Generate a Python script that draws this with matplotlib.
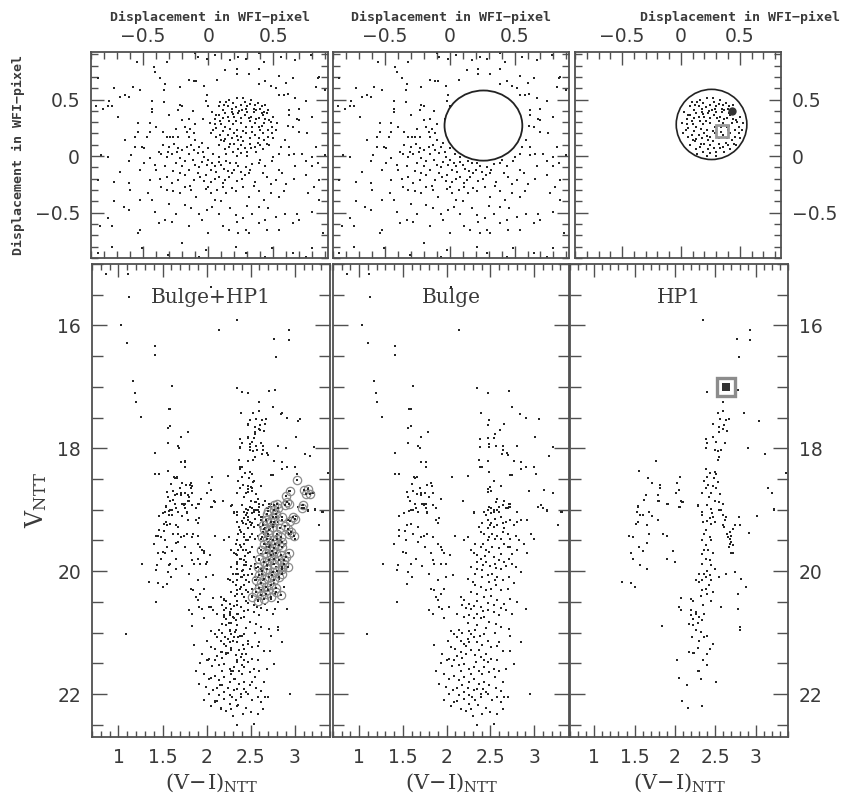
import numpy as np
import matplotlib
matplotlib.use('Agg')
import matplotlib.pyplot as plt
from matplotlib.patches import Ellipse
from matplotlib.ticker import FixedLocator, FixedFormatter, MultipleLocator

# --- data --------------------------------------------------------------------
# positions of bulge field stars (outside the HP1 circle), WFI pixels
bulge_pos = [
    (-0.55, 0.83), (-0.32, 0.83), (-0.10, 0.91), (-0.08, 0.88), (-0.01, 0.86), (0.05, 0.89), (0.17, 0.85),
    (0.23, 0.88), (0.29, 0.86), (0.39, 0.91), (0.43, 0.83), (0.56, 0.88), (0.67, 0.85), (0.79, 0.89),
    (-0.42, 0.79), (-0.41, 0.74), (-0.37, 0.69), (-0.15, 0.67), (-0.11, 0.66), (-0.09, 0.66), (0.07, 0.67),
    (0.13, 0.76), (0.22, 0.77), (0.22, 0.73), (0.31, 0.73), (0.39, 0.77), (0.39, 0.64), (0.44, 0.66),
    (0.54, 0.71), (0.65, 0.69), (0.84, 0.69), (0.85, 0.70), (-0.72, 0.60), (-0.58, 0.61), (-0.52, 0.58),
    (-0.34, 0.58), (-0.33, 0.64), (-0.22, 0.61), (-0.03, 0.62),
    (-0.85, 0.69), (-0.76, 0.49), (-0.74, 0.44), (-0.68, 0.52), (-0.64, 0.54), (-0.61, 0.52), (-0.43, 0.49),
    (-0.43, 0.42), (-0.34, 0.48), (-0.22, 0.45), (-0.02, 0.49), (-0.01, 0.54), (0.00, 0.44), (0.54, 0.54),
    (0.58, 0.54), (0.61, 0.55), (0.67, 0.51), (0.75, 0.49), (0.83, 0.61), (0.90, 0.58),
    (-0.86, 0.44), (-0.81, 0.42), (-0.77, 0.44), (-0.69, 0.35), (-0.43, 0.39), (-0.23, 0.41), (-0.20, 0.44),
    (-0.15, 0.33), (-0.04, 0.33), (0.62, 0.41), (0.68, 0.33), (0.70, 0.32), (0.80, 0.35), (-0.54, 0.29),
    (-0.45, 0.29), (-0.40, 0.26),
    (-0.64, 0.14), (-0.56, 0.17), (-0.54, 0.21), (-0.47, 0.17), (-0.45, 0.21), (-0.32, 0.17), (-0.29, 0.17),
    (-0.27, 0.17), (-0.23, 0.17), (-0.18, 0.26), (-0.16, 0.21), (-0.14, 0.24), (-0.15, 0.17), (-0.11, 0.20),
    (-0.10, 0.14), (0.61, 0.27), (0.65, 0.26), (0.70, 0.21), (0.76, 0.20), (0.59, 0.14), (0.62, 0.08),
    (0.56, 0.08), (0.83, 0.08), (-0.56, 0.08), (-0.51, 0.08),
    (-0.82, 0.01), (-0.77, -0.01), (-0.59, 0.01), (-0.49, 0.07), (-0.38, 0.04), (-0.36, 0.02), (-0.31, 0.04),
    (-0.32, -0.01), (-0.28, 0.02), (-0.24, 0.04), (-0.23, 0.07), (-0.22, -0.02), (-0.16, 0.08), (-0.15, 0.02),
    (-0.11, 0.05), (-0.07, 0.08), (-0.04, 0.04), (-0.03, -0.01), (0.00, 0.07), (0.04, 0.02), (0.08, -0.01),
    (0.14, -0.04), (0.21, -0.06), (0.34, -0.07), (0.40, -0.03), (0.50, -0.01), (0.54, 0.02), (0.62, 0.01),
    (0.66, 0.02), (0.72, 0.02), (0.80, -0.01), (0.90, 0.01),
    (-0.68, -0.14), (-0.61, -0.04), (-0.49, -0.06), (-0.41, -0.08), (-0.33, -0.09), (-0.25, -0.06),
    (-0.20, -0.09), (-0.15, -0.12), (-0.10, -0.08), (-0.05, -0.05), (-0.01, -0.08), (0.02, -0.12),
    (0.05, -0.09), (0.08, -0.05), (0.12, -0.11), (0.17, -0.06), (0.23, -0.09), (0.29, -0.10), (0.32, -0.12),
    (0.39, -0.06), (0.44, -0.09), (0.49, -0.04), (0.54, -0.12), (0.67, -0.09), (0.75, -0.04), (0.80, -0.09),
    (0.84, -0.06),
    (-0.85, -0.21), (-0.72, -0.23), (-0.61, -0.24), (-0.45, -0.21), (-0.37, -0.20), (-0.32, -0.18),
    (-0.23, -0.21), (-0.18, -0.17), (-0.11, -0.21), (-0.06, -0.18), (-0.02, -0.17), (0.02, -0.23),
    (0.08, -0.18), (0.13, -0.21), (0.18, -0.15), (0.26, -0.20), (0.31, -0.15), (0.36, -0.23), (0.45, -0.18),
    (0.52, -0.21), (0.57, -0.15), (0.66, -0.20), (0.75, -0.17), (0.85, -0.21),
    (-0.72, -0.40), (-0.52, -0.39), (-0.46, -0.33), (-0.43, -0.39), (-0.36, -0.27), (-0.32, -0.30),
    (-0.27, -0.31), (-0.22, -0.33), (-0.18, -0.27), (-0.13, -0.30), (-0.09, -0.36), (-0.02, -0.29),
    (0.02, -0.33), (0.05, -0.39), (0.11, -0.27), (0.14, -0.33), (0.21, -0.31), (0.27, -0.27), (0.31, -0.36),
    (0.39, -0.31), (0.43, -0.39), (0.48, -0.33), (0.54, -0.36), (0.58, -0.31), (0.77, -0.33), (0.81, -0.27),
    (0.85, -0.39),
    (-0.77, -0.55), (-0.61, -0.48), (-0.52, -0.65), (-0.41, -0.49), (-0.33, -0.56), (-0.25, -0.51),
    (-0.18, -0.43), (-0.13, -0.46), (-0.07, -0.51), (-0.01, -0.48), (0.03, -0.45), (0.08, -0.51),
    (0.17, -0.46), (0.21, -0.52), (0.27, -0.55), (0.34, -0.51), (0.39, -0.45), (0.44, -0.56), (0.52, -0.54),
    (0.59, -0.51), (0.68, -0.51), (0.80, -0.49),
    (-0.83, -0.62), (-0.74, -0.62), (-0.54, -0.68), (-0.38, -0.59), (-0.28, -0.58), (-0.15, -0.62),
    (-0.05, -0.56), (0.00, -0.68), (0.11, -0.62), (0.16, -0.65), (0.22, -0.58), (0.23, -0.68), (0.29, -0.65),
    (0.31, -0.68), (0.39, -0.59), (0.45, -0.65), (0.54, -0.65), (0.65, -0.59), (0.70, -0.56), (0.88, -0.68),
    (-0.74, -0.80), (-0.51, -0.81), (-0.31, -0.87), (-0.07, -0.89), (-0.20, -0.77), (-0.02, -0.83),
    (0.21, -0.80), (0.29, -0.86), (0.44, -0.89), (0.49, -0.81), (0.65, -0.86), (0.75, -0.89), (0.80, -0.81),
    (-0.85, -0.86),
    (-0.35, 0.10), (-0.30, 0.08), (-0.26, 0.11), (-0.20, 0.05), (-0.13, 0.10), (-0.08, 0.03), (-0.05, 0.12),
    (-0.18, -0.04), (-0.12, -0.03), (-0.07, -0.10), (0.00, -0.03), (0.03, -0.06), (0.06, -0.14), (0.10, -0.08),
    (0.15, -0.13), (0.20, -0.12), (0.25, -0.14), (-0.27, -0.13), (-0.22, -0.15), (-0.08, -0.15), (-0.03, -0.22),
    (0.05, -0.20), (0.11, -0.24), (0.16, -0.18), (0.22, -0.22), (0.28, -0.17), (-0.40, -0.12), (-0.45, -0.02),
    (-0.52, -0.12), (-0.28, -0.24), (-0.14, -0.26), (0.00, -0.27), (0.07, -0.30), (0.18, -0.28), (0.35, -0.26),
    (0.42, -0.15), (0.48, -0.25), (0.60, -0.25), (-0.10, 0.28), (-0.20, 0.32), (-0.30, 0.36), (-0.12, 0.40),
    (-0.25, 0.24), (-0.35, 0.21), (0.62, 0.36), (0.70, 0.42), (0.48, 0.62), (0.52, 0.60), (0.60, 0.65),
    (-0.60, -0.30), (-0.65, -0.45), (0.10, -0.40), (-0.30, -0.42), (0.30, -0.44), (0.46, -0.46),
]

# positions of stars inside the HP1 circle
hp1_pos = [
    (0.09, 0.48), (0.12, 0.45), (0.16, 0.50), (0.19, 0.47), (0.22, 0.51), (0.25, 0.45), (0.28, 0.48),
    (0.30, 0.44), (0.33, 0.50), (0.36, 0.45), (0.37, 0.41), (0.40, 0.42), (0.43, 0.39), (0.45, 0.38),
    (0.46, 0.41), (0.42, 0.36), (0.03, 0.39), (0.06, 0.36), (0.11, 0.41), (0.13, 0.38), (0.18, 0.39),
    (0.20, 0.35), (0.23, 0.38), (0.28, 0.36), (0.30, 0.39), (0.33, 0.35), (0.39, 0.34), (0.47, 0.32),
    (0.50, 0.35), (0.01, 0.29), (0.05, 0.28), (0.09, 0.31), (0.13, 0.26), (0.16, 0.31), (0.19, 0.28),
    (0.22, 0.23), (0.25, 0.29), (0.29, 0.26), (0.32, 0.31), (0.39, 0.26), (0.43, 0.29), (0.49, 0.26),
    (0.52, 0.23), (0.02, 0.20), (0.06, 0.17), (0.11, 0.22), (0.15, 0.19), (0.18, 0.16), (0.20, 0.20),
    (0.25, 0.17), (0.29, 0.20), (0.32, 0.16), (0.36, 0.19), (0.42, 0.20), (0.46, 0.17), (0.50, 0.16),
    (0.08, 0.10), (0.12, 0.13), (0.16, 0.08), (0.20, 0.11), (0.25, 0.10), (0.28, 0.07), (0.32, 0.11),
    (0.36, 0.08), (0.40, 0.10), (0.45, 0.11), (0.19, 0.04), (0.25, 0.03), (0.30, 0.04), (0.37, 0.04),
    (0.13, 0.06), (0.15, 0.44), (0.18, 0.42), (0.26, 0.41), (0.29, 0.42), (0.35, 0.39), (0.11, 0.34),
    (0.15, 0.35), (0.25, 0.34), (0.36, 0.29), (0.40, 0.23), (0.46, 0.23), (0.06, 0.25), (0.23, 0.14),
    (0.39, 0.16), (0.47, 0.10),
    (0.14, 0.48), (0.21, 0.43), (0.27, 0.51), (0.32, 0.46), (0.38, 0.47), (0.24, 0.40), (0.08, 0.44),
    (0.05, 0.33), (0.10, 0.28), (0.17, 0.24), (0.21, 0.31), (0.27, 0.22), (0.34, 0.26), (0.37, 0.33),
    (0.44, 0.33), (0.48, 0.30), (0.53, 0.29), (0.41, 0.27), (0.04, 0.23), (0.09, 0.19), (0.13, 0.15),
    (0.22, 0.18), (0.27, 0.13), (0.34, 0.21), (0.38, 0.12), (0.43, 0.14), (0.49, 0.20), (0.10, 0.14),
    (0.17, 0.11), (0.23, 0.06), (0.33, 0.07), (0.42, 0.06), (0.30, 0.00), (0.22, 0.00), (0.14, 0.02),
    (0.08, 0.36), (0.31, 0.34), (0.19, 0.37), (0.35, 0.42), (0.41, 0.44), (0.44, 0.45), (0.41, 0.38),
]

# colour-magnitude diagram of the bulge field: (V-I, V)
bulge_cmd = [
    (0.86, 15.17), (1.11, 15.16), (1.12, 15.54), (1.03, 16.00), (1.10, 16.28), (1.41, 16.34), (1.41, 16.48),
    (2.14, 16.07), (2.05, 15.38), (1.17, 16.91), (1.19, 17.10), (1.20, 17.24), (1.26, 17.49), (1.61, 16.98),
    (1.57, 17.36), (1.59, 17.36), (1.56, 17.67), (1.59, 17.63), (1.71, 17.81), (1.79, 17.74), (1.56, 17.92),
    (1.67, 17.96), (1.69, 17.99), (1.41, 18.08), (1.41, 18.42), (1.46, 18.42), (1.63, 18.46), (1.66, 18.46),
    (1.64, 18.49), (1.71, 18.22), (1.76, 18.22), (1.76, 18.30), (1.77, 18.59), (1.82, 18.56), (1.83, 18.61),
    (1.55, 18.71), (1.56, 18.79), (1.62, 18.70), (1.66, 18.75), (1.71, 18.72), (1.71, 18.76), (1.75, 18.73),
    (1.84, 18.72), (1.94, 18.82), (1.64, 18.91), (1.74, 18.90), (1.76, 18.91), (1.59, 19.00), (1.67, 19.03),
    (1.78, 19.03), (1.51, 19.06), (2.06, 18.47), (2.24, 18.45), (2.19, 18.85),
    (2.35, 17.02), (2.47, 17.10), (2.71, 17.06), (2.75, 17.32), (2.39, 17.43), (2.49, 17.54), (2.47, 17.62),
    (2.61, 17.70), (2.55, 17.77), (2.66, 17.60), (2.84, 17.44), (2.91, 17.51), (3.06, 17.53), (3.01, 17.82),
    (2.38, 17.85), (2.47, 17.83), (2.54, 17.83), (2.49, 17.93), (2.38, 17.98), (2.49, 17.98), (2.56, 17.96),
    (2.64, 17.97), (2.64, 18.03), (2.69, 18.07), (2.63, 18.09), (2.70, 18.11), (2.81, 17.96), (2.37, 18.19),
    (2.38, 18.30), (2.40, 18.31), (2.47, 18.20), (2.49, 18.39), (2.77, 18.21), (2.85, 18.22), (2.91, 18.30),
    (2.85, 18.33), (3.00, 18.30), (3.02, 18.42), (2.75, 18.44), (2.73, 18.44), (2.54, 18.53), (2.62, 18.61),
    (2.50, 18.63), (2.47, 18.66), (2.51, 18.70), (2.47, 18.71), (2.94, 18.69), (3.11, 18.68), (3.22, 18.73),
    (3.17, 18.12), (3.22, 17.98), (2.58, 18.82), (2.56, 18.87), (2.66, 18.86), (2.71, 18.90), (2.49, 18.95),
    (2.54, 19.00), (2.60, 19.03), (2.70, 18.98), (2.73, 18.95), (2.81, 19.03), (3.08, 18.92), (3.10, 18.98),
    (3.15, 19.02), (3.31, 19.03), (2.31, 19.04), (2.43, 19.03), (2.51, 19.06),
    (1.46, 19.11), (1.51, 19.06), (1.57, 19.02), (1.61, 19.01), (1.65, 18.98), (1.72, 18.90), (1.74, 18.93),
    (1.76, 18.98), (1.78, 19.06), (1.84, 18.93), (1.55, 19.25), (1.59, 19.23), (1.67, 19.28), (1.46, 19.33),
    (1.45, 19.42), (1.40, 19.55), (1.53, 19.50), (1.67, 19.52), (1.71, 19.44), (1.74, 19.42), (1.88, 19.17),
    (1.90, 19.22), (1.91, 19.14), (1.84, 19.44), (1.78, 19.39), (1.90, 19.55), (1.93, 19.61), (1.95, 19.66),
    (1.97, 19.71), (1.84, 19.82), (1.86, 19.88), (1.93, 19.88), (1.99, 19.88), (2.04, 19.74), (1.50, 19.69),
    (1.53, 19.71), (1.59, 19.88), (1.44, 19.90), (1.43, 19.98), (1.56, 20.01), (1.55, 20.21), (1.27, 19.89),
    (1.43, 20.50), (1.82, 20.29), (1.97, 20.29), (1.93, 20.37), (1.90, 20.47), (1.91, 20.58), (1.95, 20.61),
    (2.03, 20.58), (2.07, 20.07), (1.84, 20.69), (1.97, 20.77), (1.80, 20.64), (1.88, 20.42), (1.99, 20.10),
    (1.09, 21.02),
    (2.10, 19.42), (2.20, 19.50), (2.31, 19.06), (2.37, 19.28), (2.41, 19.22), (2.45, 19.09), (2.47, 19.01),
    (2.51, 18.98), (2.54, 19.03), (2.58, 19.01), (2.60, 18.95), (2.64, 18.93), (2.68, 18.98), (2.71, 18.95),
    (2.73, 18.90), (2.47, 19.17), (2.51, 19.22), (2.54, 19.28), (2.58, 19.25), (2.64, 19.22), (2.68, 19.20),
    (2.73, 19.17), (2.77, 19.25), (2.81, 19.20), (2.85, 19.17), (2.92, 19.17), (2.96, 19.39), (3.00, 19.47),
    (3.04, 18.95), (3.15, 19.01), (3.27, 19.25), (3.32, 19.03), (2.39, 19.36), (2.43, 19.39), (2.49, 19.44),
    (2.52, 19.39), (2.58, 19.42), (2.64, 19.36), (2.70, 19.39), (2.73, 19.47), (2.79, 19.42), (2.83, 19.50),
    (2.89, 19.55), (2.33, 19.55), (2.39, 19.61), (2.45, 19.66), (2.49, 19.69), (2.52, 19.61), (2.60, 19.63),
    (2.66, 19.55), (2.73, 19.61), (2.81, 19.66), (2.92, 19.71), (2.31, 19.71), (2.35, 19.74), (2.39, 19.80),
    (2.45, 19.85), (2.54, 19.77), (2.60, 19.82), (2.66, 19.85), (2.71, 19.80), (2.75, 19.88), (2.79, 19.93),
    (2.85, 20.01), (2.28, 19.93), (2.35, 19.96), (2.41, 19.98), (2.47, 20.07), (2.52, 20.04), (2.58, 20.10),
    (2.64, 20.15), (2.71, 20.10), (2.24, 20.12), (2.30, 20.18), (2.33, 20.23), (2.39, 20.26), (2.45, 20.31),
    (2.51, 20.29), (2.56, 20.23), (2.62, 20.31), (2.70, 20.29), (2.77, 20.20), (2.28, 20.34), (2.35, 20.37),
    (2.43, 20.42), (2.51, 20.40), (2.58, 20.47), (2.66, 20.53), (2.73, 20.45), (2.81, 20.50), (2.91, 20.61),
    (2.16, 20.42), (2.20, 20.47), (2.26, 20.53), (2.31, 20.56), (2.39, 20.58), (2.47, 20.64), (2.54, 20.67),
    (2.60, 20.72), (2.68, 20.64), (2.75, 20.69), (2.12, 20.69), (2.20, 20.75), (2.26, 20.72), (2.31, 20.77),
    (2.39, 20.77), (2.43, 20.75), (2.49, 20.83), (2.56, 20.86), (2.62, 20.91), (2.71, 20.94), (2.73, 21.05),
    (2.85, 21.16),
    (2.05, 20.97), (2.09, 21.02), (2.12, 21.07), (2.16, 21.13), (2.20, 21.18), (2.24, 21.10), (2.28, 21.02),
    (2.31, 21.07), (2.35, 21.16), (2.41, 21.21), (2.47, 21.13), (2.51, 21.24), (2.01, 21.13), (2.05, 21.24),
    (2.10, 21.26), (2.16, 21.32), (2.22, 21.35), (2.28, 21.29), (2.33, 21.37), (2.39, 21.40), (2.45, 21.35),
    (2.51, 21.43), (2.58, 21.45), (1.95, 21.35), (2.03, 21.43), (2.09, 21.45), (2.14, 21.53), (2.20, 21.51),
    (2.26, 21.59), (2.31, 21.56), (2.37, 21.62), (2.43, 21.56), (2.49, 21.64), (2.54, 21.59), (2.60, 21.62),
    (2.77, 21.51), (1.88, 21.62), (1.97, 21.67), (2.03, 21.75), (2.09, 21.70), (2.14, 21.78), (2.20, 21.73),
    (2.26, 21.80), (2.31, 21.75), (2.37, 21.83), (2.43, 21.80), (2.49, 21.86), (1.91, 21.83), (1.99, 21.89),
    (2.07, 21.94), (2.12, 21.91), (2.20, 21.97), (2.26, 22.02), (2.31, 21.94), (2.39, 22.00), (2.45, 21.97),
    (1.97, 22.10), (2.09, 22.13), (2.12, 22.12), (2.20, 22.08), (2.26, 22.16), (2.33, 22.10), (2.39, 22.05),
    (2.47, 22.00), (2.52, 22.10), (2.58, 22.05), (2.62, 22.13), (2.66, 22.05), (2.70, 22.05), (2.16, 22.24),
    (2.28, 22.24), (2.41, 22.32), (2.58, 22.32), (2.64, 22.24), (2.95, 22.00), (2.35, 22.51), (2.54, 22.49),
    (2.14, 20.95), (2.18, 21.00), (2.26, 20.98), (2.33, 20.95), (2.38, 21.05), (2.43, 21.02), (2.55, 21.00),
    (2.60, 21.15), (2.22, 21.22), (2.26, 21.16), (2.37, 21.28), (2.43, 21.45), (2.47, 21.48), (2.18, 21.42),
    (2.12, 21.38), (2.06, 21.55), (2.17, 21.62), (2.28, 21.68), (2.34, 21.48), (2.40, 21.68), (2.55, 21.72),
    (2.65, 21.80), (2.18, 21.86), (2.24, 21.90), (2.35, 21.92), (2.42, 21.92), (2.03, 22.00), (2.14, 22.02),
    (2.29, 22.05), (2.36, 22.18), (2.45, 22.22), (2.05, 22.20), (2.22, 22.28), (2.30, 22.35), (2.50, 22.30),
    (2.62, 21.95), (2.68, 21.60), (2.72, 21.30), (2.65, 21.30), (2.58, 21.22), (2.00, 21.45), (1.93, 21.50),
    (1.86, 21.20), (2.56, 21.90),
    (2.42, 19.55), (2.47, 19.50), (2.55, 19.48), (2.62, 19.48), (2.35, 19.85), (2.42, 19.90), (2.50, 19.92),
    (2.56, 19.95), (2.62, 19.96), (2.68, 19.92), (2.33, 20.05), (2.40, 20.10), (2.48, 20.18), (2.55, 20.15),
    (2.35, 20.48), (2.47, 20.52), (2.54, 20.55), (2.62, 20.60), (2.42, 20.65), (2.35, 20.70), (2.28, 20.62),
    (2.22, 20.60), (2.18, 20.55), (2.25, 20.85), (2.35, 20.88), (2.45, 20.92), (2.50, 19.25), (2.62, 19.12),
    (2.55, 19.15), (2.47, 19.30), (2.66, 19.30), (2.70, 19.60), (2.75, 19.72), (2.62, 19.72), (2.55, 19.88),
    (2.44, 19.75), (2.28, 19.65), (2.25, 19.45),
    (1.60, 18.58), (1.70, 18.65), (1.58, 18.85), (1.80, 18.80), (1.88, 18.98), (1.52, 19.35), (1.62, 19.40),
    (1.75, 19.60), (1.82, 19.70), (1.65, 19.80), (1.72, 19.92), (1.80, 20.05), (1.90, 20.15), (1.85, 20.30),
    (1.60, 20.10),
]

# colour-magnitude diagram of the HP1 field
hp1_cmd = [
    (2.35, 15.91), (2.93, 16.07), (2.77, 16.22), (2.93, 16.24), (2.79, 16.52), (2.40, 17.09), (2.78, 17.05),
    (2.60, 17.24), (2.86, 17.43), (3.04, 17.55), (2.53, 17.43), (2.59, 17.40), (2.56, 17.52), (2.63, 17.54),
    (2.67, 17.53), (2.47, 17.60), (2.55, 17.66), (2.59, 17.68), (2.61, 17.62), (2.65, 17.72), (2.55, 17.73),
    (2.38, 17.85), (2.47, 17.82), (2.40, 17.92), (2.51, 17.89), (2.62, 17.92), (2.38, 17.99), (2.49, 18.02),
    (2.53, 18.05), (2.57, 18.03), (2.55, 18.14), (2.53, 18.19), (2.90, 18.00), (3.12, 18.09), (1.76, 18.21),
    (1.56, 18.37), (1.66, 18.49), (1.72, 18.56), (1.81, 18.59), (1.82, 18.65), (1.79, 18.76), (1.80, 18.86),
    (1.64, 18.76), (1.62, 18.84), (1.91, 18.90), (1.54, 18.95), (1.53, 19.03), (1.68, 19.03), (2.03, 18.57),
    (2.06, 18.46), (2.05, 18.68), (2.01, 18.72), (2.08, 18.86), (2.10, 18.87), (2.06, 18.96), (2.38, 18.33),
    (2.49, 18.38), (2.51, 18.42), (2.48, 18.49), (2.40, 18.46), (2.36, 18.54), (2.41, 18.60), (2.47, 18.61),
    (2.51, 18.65), (2.38, 18.65), (2.45, 18.73), (2.56, 18.75), (2.34, 18.72), (2.55, 18.87), (2.59, 18.90),
    (2.57, 19.00), (2.40, 18.93), (2.45, 18.99), (2.34, 19.03), (2.29, 18.92), (3.15, 18.65), (3.20, 18.72),
    (3.23, 18.99), (3.38, 18.41),
    (1.54, 18.94), (1.57, 19.09), (1.61, 19.09), (1.54, 19.20), (1.52, 19.23), (1.65, 19.25), (1.43, 19.42),
    (1.48, 19.44), (1.65, 19.54), (1.45, 19.71), (1.48, 19.81), (1.61, 19.67), (1.57, 19.90), (1.65, 19.96),
    (1.35, 20.18), (1.45, 20.19), (1.51, 20.25), (1.79, 19.16), (1.85, 19.39), (1.90, 19.42), (1.97, 19.67),
    (1.90, 19.80), (2.00, 19.85), (1.79, 18.85), (1.90, 18.90), (2.05, 18.95), (2.09, 18.87), (2.28, 18.94),
    (2.34, 19.09), (2.35, 19.20), (2.43, 19.14), (2.47, 19.12), (2.45, 19.23), (2.49, 19.20), (2.38, 19.33),
    (2.36, 19.39), (2.43, 19.44), (2.34, 19.50), (2.38, 19.58), (2.45, 19.50), (2.36, 19.66), (2.47, 19.71),
    (2.38, 19.80), (2.43, 19.82), (2.34, 19.88), (2.45, 19.90), (2.40, 19.99), (2.49, 19.96), (2.30, 20.04),
    (2.36, 20.05), (2.43, 20.07), (2.26, 20.15), (2.30, 20.18), (2.34, 20.15), (2.45, 20.15), (2.38, 20.29),
    (2.34, 20.31), (2.40, 20.37), (2.47, 20.34), (2.32, 20.40), (2.45, 20.48), (2.22, 20.48), (2.20, 20.45),
    (2.07, 20.44), (2.05, 20.58), (2.07, 20.64), (2.20, 20.64), (2.20, 20.72), (2.26, 20.69), (2.30, 20.75),
    (2.26, 20.67), (2.36, 20.69), (2.22, 20.78), (2.18, 20.86), (2.22, 20.88), (1.84, 20.90), (2.21, 21.07),
    (2.32, 20.99), (2.36, 21.07), (2.40, 21.05), (2.30, 21.13), (2.47, 21.18), (2.43, 21.26), (2.18, 21.32),
    (2.22, 21.33), (2.24, 21.33), (2.40, 21.35), (2.02, 21.45), (2.28, 21.62), (2.30, 21.62), (2.40, 21.52),
    (2.05, 21.74), (2.15, 21.85), (2.51, 21.81), (2.09, 22.12), (2.16, 22.23), (2.34, 22.20),
    (2.55, 19.01), (2.59, 19.09), (2.63, 19.12), (2.59, 19.25), (2.61, 19.28), (2.68, 19.36), (2.72, 19.31),
    (2.74, 19.25), (2.65, 19.39), (2.68, 19.47), (2.70, 19.52), (2.68, 19.55), (2.72, 19.58), (2.67, 19.61),
    (2.70, 19.70), (2.72, 19.70), (2.79, 19.12), (2.80, 19.25), (2.92, 19.38), (3.01, 19.10), (3.23, 19.01),
    (2.74, 20.01), (2.63, 20.04), (2.55, 20.10), (2.57, 20.58), (2.78, 20.38), (2.78, 20.62), (2.82, 20.12),
    (2.88, 20.26), (2.81, 20.91), (2.81, 20.95),
    (2.42, 18.80), (2.50, 18.85), (2.53, 18.55), (2.44, 18.40), (2.46, 19.05), (2.40, 19.18), (2.41, 19.65),
    (2.33, 19.72), (2.39, 20.10), (2.42, 20.22), (2.35, 20.55), (2.28, 20.85), (2.33, 20.80), (2.26, 20.95),
    (2.28, 21.25), (2.35, 21.45), (2.32, 21.75), (2.62, 19.16), (2.66, 19.45), (2.70, 19.42), (1.68, 19.40),
    (1.55, 19.60), (1.72, 19.10),
]

# stars marked with grey circles in the combined diagram
marked_cmd = [
    (3.03, 18.52), (2.95, 18.69), (2.90, 18.78), (2.91, 18.87), (2.94, 18.90), (2.89, 18.93), (3.11, 18.68),
    (3.15, 18.67), (3.13, 18.74), (3.17, 18.75), (3.09, 18.93), (3.08, 18.98), (2.80, 18.90), (2.77, 18.93),
    (2.81, 18.98), (2.76, 19.01), (2.79, 19.07), (2.75, 19.12), (2.69, 19.07), (2.67, 19.17), (2.73, 19.20),
    (2.98, 19.12), (2.95, 19.18), (3.00, 19.15), (2.89, 19.27), (2.92, 19.31), (2.96, 19.36), (2.94, 19.39),
    (2.99, 19.42), (2.65, 19.31), (2.71, 19.33), (2.75, 19.28), (2.80, 19.39), (2.63, 19.44), (2.69, 19.47),
    (2.75, 19.50), (2.80, 19.47), (2.84, 19.44), (2.65, 19.55), (2.71, 19.61), (2.77, 19.63), (2.82, 19.58),
    (2.86, 19.61), (2.62, 19.66), (2.67, 19.71), (2.73, 19.74), (2.79, 19.71), (2.84, 19.74), (2.90, 19.77),
    (2.94, 19.71), (2.60, 19.80), (2.65, 19.85), (2.71, 19.82), (2.77, 19.88), (2.82, 19.82), (2.88, 19.88),
    (2.58, 19.93), (2.63, 19.99), (2.69, 19.96), (2.75, 20.01), (2.80, 19.99), (2.86, 19.96), (2.92, 19.93),
    (2.60, 20.07), (2.65, 20.12), (2.71, 20.10), (2.77, 20.15), (2.82, 20.10), (2.62, 20.20), (2.67, 20.26),
    (2.73, 20.23), (2.79, 20.28), (2.56, 20.15), (2.56, 20.34), (2.62, 20.39), (2.67, 20.37), (2.73, 20.42),
    (2.79, 20.34), (2.58, 20.48), (2.65, 20.45), (2.52, 20.42), (2.84, 20.39), (2.86, 19.93), (2.88, 19.82),
    (2.70, 19.02), (2.64, 19.25), (2.70, 19.40), (2.78, 19.55), (2.74, 19.68), (2.68, 19.90), (2.74, 20.06),
    (2.85, 20.05), (2.70, 20.30), (2.60, 20.28), (2.76, 19.80), (2.86, 19.52), (2.83, 19.30), (2.86, 19.12),
    (2.77, 19.20),
]

# highlighted star (square) and the dense clump inside the HP1 circle
square_pos = (0.35, 0.225)
clump_pos = (0.43, 0.40)
square_cmd = (2.63, 17.0)

hp1_circle = (0.26, 0.27, 0.30, 0.31)   # centre x, centre y, radius x, radius y

pos_ticks = [-0.5, 0, 0.5]
pos_labels = ['\u22120.5', '0', '0.5']
col_ticks = [1, 1.5, 2, 2.5, 3]
col_labels = ['1', '1.5', '2', '2.5', '3']
mag_ticks = [16, 18, 20, 22]
mag_labels = ['16', '18', '20', '22']

# --- drawing -------------------------------------------------------------------
W, H = 846, 796
plt.rcParams['mathtext.fontset'] = 'dejavuserif'
fig = plt.figure(figsize=(W / 100, H / 100), dpi=100)

INK = '#262626'
FRAME = '#505050'
TXT = '#3a3a3a'
MONO = dict(family='DejaVu Sans Mono', weight='bold', size=9.5, color=TXT)


def px_axes(x0, x1, y0, y1):
    return fig.add_axes([x0 / W, 1 - y1 / H, (x1 - x0) / W, (y1 - y0) / H])


def frame(ax):
    for s in ax.spines.values():
        s.set_color(FRAME)
        s.set_linewidth(1.3)
    ax.tick_params(which='both', direction='in', top=True, bottom=True, left=True, right=True,
                   color=FRAME, width=1.0, labelcolor=TXT, labelsize=13.5)


def top_panel(ax, xlim, left=False, right=False):
    frame(ax)
    ax.set_xlim(*xlim)
    ax.set_ylim(-0.9, 0.92)
    for axis in (ax.xaxis, ax.yaxis):
        axis.set_major_locator(FixedLocator(pos_ticks))
        axis.set_major_formatter(FixedFormatter(pos_labels))
        axis.set_minor_locator(MultipleLocator(0.1))
    ax.tick_params(which='major', length=9)
    ax.tick_params(which='minor', length=5)
    ax.tick_params(axis='x', labelbottom=False, labeltop=True, pad=4)
    ax.tick_params(axis='y', labelleft=left, labelright=right, pad=8)


def cmd_panel(ax, title, left=False, right=False):
    frame(ax)
    ax.set_xlim(0.7, 3.4)
    ax.set_ylim(22.7, 15.0)
    ax.xaxis.set_major_locator(FixedLocator(col_ticks))
    ax.xaxis.set_major_formatter(FixedFormatter(col_labels))
    ax.xaxis.set_minor_locator(MultipleLocator(0.1))
    ax.yaxis.set_major_locator(FixedLocator(mag_ticks))
    ax.yaxis.set_major_formatter(FixedFormatter(mag_labels))
    ax.yaxis.set_minor_locator(MultipleLocator(0.5))
    ax.tick_params(axis='x', which='major', length=9, pad=8)
    ax.tick_params(axis='x', which='minor', length=4)
    ax.tick_params(axis='y', which='major', length=11, pad=8)
    ax.tick_params(axis='y', which='minor', length=8)
    ax.tick_params(axis='y', labelleft=left, labelright=right)
    ax.set_xlabel(r'$\mathrm{(V\!-\!I)}_{\mathrm{NTT}}$', fontsize=15, color=TXT, labelpad=3)
    ax.text(0.5, 0.929, title, transform=ax.transAxes, ha='center', va='center',
            family='DejaVu Serif', fontsize=14.5, color=TXT)


def dots(ax, pts):
    a = np.array(pts)
    ax.plot(a[:, 0], a[:, 1], ls='none', marker='s', ms=2.0, mew=0, mfc=INK, zorder=2)


ax_tl = px_axes(91, 328, 52, 258)
ax_tm = px_axes(333, 569, 52, 258)
ax_tr = px_axes(575, 781, 52, 258)
ax_bl = px_axes(92, 330, 264, 737)
ax_bm = px_axes(333, 569, 264, 737)
ax_br = px_axes(570, 788, 264, 737)

top_panel(ax_tl, (-0.9, 0.92), left=True)
top_panel(ax_tm, (-0.9, 0.92))
top_panel(ax_tr, (-0.9, 0.85), right=True)

cx, cy, rx, ry = hp1_circle

# all stars
dots(ax_tl, bulge_pos + hp1_pos)
# bulge field with HP1 cut out
dots(ax_tm, bulge_pos)
ax_tm.add_patch(Ellipse((cx, cy), 2 * rx, 2 * ry, facecolor='white', edgecolor='#222222', lw=1.3, zorder=3))
# HP1 only
ax_tr.add_patch(Ellipse((cx, cy + 0.01), 2 * rx, 2 * ry, facecolor='none', edgecolor='#222222', lw=1.2, zorder=3))
dots(ax_tr, hp1_pos)
ax_tr.plot([clump_pos[0]], [clump_pos[1]], ls='none', marker='o', ms=6, mew=0, mfc='#333333', zorder=3)
ax_tr.plot([square_pos[0]], [square_pos[1]], ls='none', marker='s', ms=8, mfc='none',
           mec='#9a9a9a', mew=2, zorder=4)

for ax in (ax_tl, ax_tm):
    ax.xaxis.set_label_position('top')
    ax.set_xlabel('Displacement in WFI\u2212pixel', fontdict=MONO, labelpad=5)
fig.text(740 / W, 1 - 17 / H, 'Displacement in WFI\u2212pixel', ha='center', va='center', **MONO)
fig.text(18 / W, 1 - 155 / H, 'Displacement in WFI\u2212pixel', ha='center', va='center',
         rotation=90, **MONO)

cmd_panel(ax_bl, 'Bulge+HP1', left=True)
cmd_panel(ax_bm, 'Bulge')
cmd_panel(ax_br, 'HP1', right=True)

dots(ax_bl, bulge_cmd + hp1_cmd)
m = np.array(marked_cmd)
ax_bl.plot(m[:, 0], m[:, 1], ls='none', marker='o', ms=6, mfc='none', mec='#8c8c8c', mew=0.9, zorder=3)
ax_bl.plot(m[:, 0], m[:, 1], ls='none', marker='s', ms=1.8, mew=0, mfc=INK, zorder=3)
ax_bl.set_ylabel(r'$\mathrm{V}_{\mathrm{NTT}}$', fontsize=17, color=TXT, labelpad=6)

dots(ax_bm, bulge_cmd)

dots(ax_br, hp1_cmd)
ax_br.plot([square_cmd[0]], [square_cmd[1]], ls='none', marker='s', ms=13, mfc='white',
           mec='#8c8c8c', mew=2.4, zorder=4)
ax_br.plot([square_cmd[0]], [square_cmd[1]], ls='none', marker='s', ms=6, mew=0, mfc='#333333', zorder=5)

fig.savefig('out.png', dpi=100)
